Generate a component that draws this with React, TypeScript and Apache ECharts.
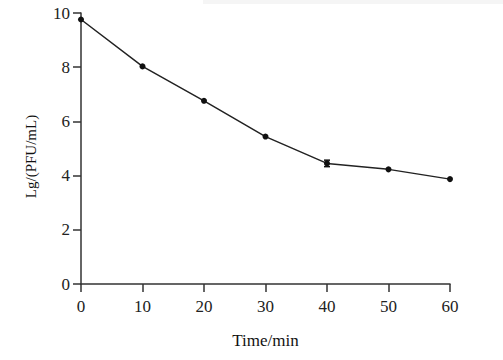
import React, { useEffect, useRef } from "react";
import * as echarts from "echarts";

const times = [0, 10, 20, 30, 40, 50, 60];
const lgValues = [9.76, 8.03, 6.76, 5.44, 4.45, 4.23, 3.87];
const lgErrors = [0, 0, 0, 0, 0.12, 0, 0];
const yTicks = [0, 2, 4, 6, 8, 10];

const FONT = "Liberation Serif";

export default function App() {
  const ref = useRef<HTMLDivElement>(null);
  useEffect(() => {
    if (!ref.current) return;
    const chart = echarts.init(ref.current, null, { renderer: "svg" });
    const pts = times.map((t, i) => [t, lgValues[i]]);
    const errData = times.map((t, i) => [t, lgValues[i] - lgErrors[i], lgValues[i] + lgErrors[i]]);
    const labelStyle = { fontFamily: FONT, fontSize: 17, color: "#222" };
    chart.setOption({
      animation: false,
      backgroundColor: "#ffffff",
      textStyle: { fontFamily: FONT },
      graphic: [
        { type: "rect", shape: { x: 203, y: 0, width: 300, height: 4 }, style: { fill: "#f5f5f5" }, silent: true },
      ],
      grid: { left: 81, right: 53, top: 13, bottom: 76 },
      xAxis: {
        type: "value",
        min: 0,
        max: 60,
        interval: 10,
        name: "Time/min",
        nameLocation: "middle",
        nameGap: 48,
        nameTextStyle: { fontFamily: FONT, fontSize: 17, color: "#111" },
        axisLine: { show: true, onZero: false, lineStyle: { color: "#333", width: 1.5 } },
        axisTick: { show: true, inside: false, length: 8, lineStyle: { color: "#333", width: 1.5 } },
        axisLabel: { ...labelStyle, margin: 14 },
        splitLine: { show: false },
      },
      yAxis: {
        type: "value",
        min: yTicks[0],
        max: yTicks[yTicks.length - 1],
        interval: 2,
        name: "Lg/(PFU/mL)",
        nameLocation: "middle",
        nameGap: 43,
        nameRotate: 90,
        nameTextStyle: { fontFamily: FONT, fontSize: 15, color: "#111", padding: [0, 16, 0, 0] },
        axisLine: { show: true, lineStyle: { color: "#333", width: 1.5 } },
        axisTick: { show: true, inside: false, length: 8, lineStyle: { color: "#333", width: 1.5 } },
        axisLabel: { ...labelStyle, margin: 11 },
        splitLine: { show: false },
      },
      series: [
        {
          type: "line",
          data: pts,
          symbol: "circle",
          symbolSize: 6,
          itemStyle: { color: "#111" },
          lineStyle: { color: "#222", width: 1.5 },
          z: 3,
        },
        {
          type: "custom",
          data: errData,
          z: 4,
          renderItem: (params: any, api: any) => {
            const x = api.value(0);
            const lo = api.value(1);
            const hi = api.value(2);
            if (hi - lo <= 0) return null;
            const pLo = api.coord([x, lo]);
            const pHi = api.coord([x, hi]);
            const w = 3;
            const style = { stroke: "#111", lineWidth: 1.5 };
            return {
              type: "group",
              children: [
                { type: "line", shape: { x1: pLo[0], y1: pLo[1], x2: pHi[0], y2: pHi[1] }, style },
                { type: "line", shape: { x1: pLo[0] - w, y1: pLo[1], x2: pLo[0] + w, y2: pLo[1] }, style },
                { type: "line", shape: { x1: pHi[0] - w, y1: pHi[1], x2: pHi[0] + w, y2: pHi[1] }, style },
              ],
            };
          },
        },
      ],
    });
    return () => chart.dispose();
  }, []);
  return (
    <div
      ref={ref}
      style={{ position: "fixed", left: 0, top: 0, width: 503, height: 360 }}
    />
  );
}
